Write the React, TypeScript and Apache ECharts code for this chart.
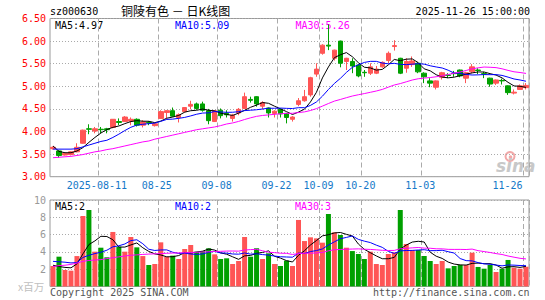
import React, { useEffect, useRef } from "react";
import * as echarts from "echarts";

const dates = [
  "2025-07-30", "2025-07-31", "2025-08-01", "2025-08-04", "2025-08-05", "2025-08-06", "2025-08-07", "2025-08-08",
  "2025-08-11", "2025-08-12", "2025-08-13", "2025-08-14", "2025-08-15", "2025-08-18", "2025-08-19", "2025-08-20",
  "2025-08-21", "2025-08-22", "2025-08-25", "2025-08-26", "2025-08-27", "2025-08-28", "2025-08-29", "2025-09-01",
  "2025-09-02", "2025-09-03", "2025-09-04", "2025-09-05", "2025-09-08", "2025-09-09", "2025-09-10", "2025-09-11",
  "2025-09-12", "2025-09-15", "2025-09-16", "2025-09-17", "2025-09-18", "2025-09-19", "2025-09-22", "2025-09-23",
  "2025-09-24", "2025-09-25", "2025-09-26", "2025-09-29", "2025-09-30", "2025-10-09", "2025-10-10", "2025-10-13",
  "2025-10-14", "2025-10-15", "2025-10-16", "2025-10-17", "2025-10-20", "2025-10-21", "2025-10-22", "2025-10-23",
  "2025-10-24", "2025-10-27", "2025-10-28", "2025-10-29", "2025-10-30", "2025-10-31", "2025-11-03", "2025-11-04",
  "2025-11-05", "2025-11-06", "2025-11-07", "2025-11-10", "2025-11-11", "2025-11-12", "2025-11-13", "2025-11-14",
  "2025-11-17", "2025-11-18", "2025-11-19", "2025-11-20", "2025-11-21", "2025-11-24", "2025-11-25", "2025-11-26",
];

const opens = [
  3.62, 3.57, 3.48, 3.49, 3.55, 3.74, 4.06, 4.01, 4.05, 4.06,
  4.09, 4.22, 4.22, 4.23, 4.27, 4.14, 4.20, 4.13, 4.29, 4.42,
  4.46, 4.31, 4.44, 4.56, 4.61, 4.61, 4.46, 4.22, 4.47, 4.40,
  4.29, 4.41, 4.51, 4.71, 4.77, 4.56, 4.52, 4.40, 4.49, 4.40,
  4.27, 4.60, 4.68, 4.81, 5.27, 5.73, 5.91, 5.62, 6.00, 5.55,
  5.55, 5.47, 5.31, 5.29, 5.29, 5.43, 5.57, 5.88, 5.62, 5.40,
  5.48, 5.51, 5.29, 5.12, 4.98, 5.20, 5.25, 5.29, 5.36, 5.18,
  5.32, 5.36, 5.28, 5.18, 5.07, 5.13, 5.01, 4.85, 4.93, 4.97,
];

const closes = [
  3.65, 3.47, 3.52, 3.55, 3.65, 4.03, 4.05, 4.06, 4.04, 4.04,
  4.27, 4.20, 4.32, 4.27, 4.14, 4.21, 4.19, 4.17, 4.44, 4.46,
  4.34, 4.37, 4.53, 4.60, 4.51, 4.47, 4.24, 4.46, 4.35, 4.37,
  4.36, 4.49, 4.77, 4.69, 4.61, 4.64, 4.41, 4.45, 4.39, 4.31,
  4.32, 4.68, 4.77, 5.19, 5.38, 5.91, 5.89, 5.80, 5.51, 5.62,
  5.45, 5.23, 5.30, 5.43, 5.38, 5.53, 5.73, 5.90, 5.29, 5.55,
  5.56, 5.32, 5.21, 5.07, 5.12, 5.30, 5.24, 5.28, 5.23, 5.30,
  5.43, 5.35, 5.27, 5.05, 5.14, 5.12, 4.86, 4.87, 5.01, 5.02,
];

const highs = [
  3.67, 3.58, 3.53, 3.56, 3.74, 4.04, 4.16, 4.10, 4.10, 4.08,
  4.27, 4.29, 4.34, 4.31, 4.29, 4.25, 4.23, 4.18, 4.47, 4.47,
  4.53, 4.40, 4.54, 4.68, 4.64, 4.66, 4.50, 4.47, 4.51, 4.47,
  4.39, 4.52, 4.86, 4.77, 4.78, 4.67, 4.53, 4.47, 4.51, 4.41,
  4.34, 4.74, 4.92, 5.21, 5.51, 5.93, 6.37, 5.81, 6.01, 5.63,
  5.62, 5.49, 5.36, 5.51, 5.45, 5.55, 5.77, 6.02, 5.63, 5.62,
  5.66, 5.53, 5.31, 5.18, 5.13, 5.32, 5.29, 5.34, 5.37, 5.32,
  5.49, 5.40, 5.32, 5.19, 5.15, 5.17, 5.02, 4.93, 5.04, 5.07,
];

const lows = [
  3.60, 3.42, 3.47, 3.47, 3.54, 3.73, 3.94, 3.96, 3.96, 3.96,
  4.07, 4.14, 4.21, 4.14, 4.11, 4.09, 4.14, 4.11, 4.28, 4.29,
  4.33, 4.20, 4.42, 4.49, 4.48, 4.44, 4.16, 4.21, 4.29, 4.31,
  4.22, 4.36, 4.50, 4.64, 4.55, 4.49, 4.31, 4.31, 4.31, 4.18,
  4.22, 4.56, 4.66, 4.77, 5.21, 5.70, 5.80, 5.57, 5.42, 5.36,
  5.29, 5.20, 5.21, 5.25, 5.27, 5.41, 5.51, 5.79, 5.27, 5.30,
  5.43, 5.29, 5.07, 4.98, 4.93, 5.15, 5.18, 5.21, 5.20, 5.07,
  5.29, 5.27, 5.18, 4.99, 5.03, 5.04, 4.81, 4.82, 4.92, 4.93,
];

// volume in millions of shares
const volumes = [
  2.36, 3.44, 1.90, 1.82, 3.51, 8.15, 8.84, 4.02, 4.48, 3.37,
  6.30, 4.59, 4.02, 5.72, 4.52, 3.51, 2.48, 2.59, 5.10, 3.44,
  3.56, 3.17, 4.33, 4.79, 4.02, 4.09, 4.41, 3.71, 3.17, 3.25,
  2.59, 2.94, 5.72, 3.44, 4.41, 3.17, 3.83, 2.59, 2.36, 2.98,
  2.36, 7.69, 5.25, 5.68, 5.56, 5.06, 8.38, 6.26, 5.95, 4.48,
  4.09, 3.75, 3.17, 4.02, 2.59, 2.48, 3.75, 3.94, 8.84, 4.91,
  4.21, 4.21, 3.52, 2.94, 2.59, 2.94, 2.09, 2.36, 2.48, 2.48,
  3.90, 2.25, 2.05, 2.48, 1.67, 2.05, 3.06, 2.17, 2.05, 2.28,
];

// moving-average values for the days whose window starts before the visible range
const ma5Early = [3.68, 3.56, 3.53, 3.53];
const ma10Early = [3.61, 3.61, 3.61, 3.61, 3.62, 3.66, 3.70, 3.74, 3.78];
const ma30Early = [
  3.42, 3.43, 3.44, 3.45, 3.47, 3.49, 3.52, 3.55, 3.57, 3.60,
  3.62, 3.65, 3.68, 3.71, 3.74, 3.77, 3.79, 3.83, 3.86, 3.89,
  3.92, 3.95, 3.98, 4.01, 4.04, 4.06, 4.08, 4.10, 4.13,
];
const volMa5Early = [2.45, 2.30, 2.20, 2.15];
const volMa10Early = [2.90, 2.85, 2.80, 2.72, 2.75, 3.35, 3.60, 3.80, 3.95];
const volMa30Early = [
  2.30, 2.40, 2.45, 2.55, 2.70, 2.90, 3.00, 3.05, 3.10, 3.22,
  3.32, 3.42, 3.52, 3.60, 3.65, 3.70, 3.74, 3.77, 3.80, 3.83,
  3.86, 3.88, 3.90, 3.92, 3.95, 3.98, 4.01, 4.04, 4.06,
];

const xTickDates = ["2025-08-11", "2025-08-25", "2025-09-08", "2025-09-22", "2025-10-09", "2025-10-20", "2025-11-03", "2025-11-26"];
const xTickLabels = ["2025-08-11", "08-25", "09-08", "09-22", "10-09", "10-20", "11-03", "11-26"];

const priceLegend = ["MA5:4.97", "MA10:5.09", "MA30:5.26"];
const volLegend = ["MA5:2", "MA10:2", "MA30:3"];
const maColors = ["#000000", "#0000ff", "#ff00ff"];

const RED = "#ff5555";
const GREEN = "#00a000";
const MONO = '"DejaVu Sans Mono", "Liberation Mono", monospace';

function movingAvg(src: number[], n: number, early: number[]) {
  return src.map((_, i) => {
    if (i < n - 1) return early[i];
    let s = 0;
    for (let k = i - n + 1; k <= i; k++) s += src[k];
    return +(s / n).toFixed(3);
  });
}

export default function App() {
  const ref = useRef<HTMLDivElement>(null);

  useEffect(() => {
    if (!ref.current) return;
    const chart = echarts.init(ref.current, null, { renderer: "svg" });

    const candleData = dates.map((_, i) => [opens[i], closes[i], lows[i], highs[i]]);
    const volData = volumes.map((v, i) => ({
      value: v,
      itemStyle: { color: closes[i] >= opens[i] ? RED : GREEN },
    }));
    const priceMa = [
      movingAvg(closes, 5, ma5Early),
      movingAvg(closes, 10, ma10Early),
      movingAvg(closes, 30, ma30Early),
    ];
    const volMa = [
      movingAvg(volumes, 5, volMa5Early),
      movingAvg(volumes, 10, volMa10Early),
      movingAvg(volumes, 30, volMa30Early),
    ];

    const tickSet = new Set(xTickDates);
    const lastDate = xTickDates[xTickDates.length - 1];
    const labelOf = (v: string) => xTickLabels[xTickDates.indexOf(v)];
    const dashed = { color: "#aaaaaa", type: [5, 3] as any, width: 1 };
    const dotted = { color: "#aaaaaa", type: [1, 2] as any, width: 1 };

    const txt = (text: string, x: number, y: number, fill: string, font: string, align = "left") => ({
      type: "text",
      x,
      y,
      silent: true,
      style: { text, fill, font, align, verticalAlign: "middle", textAlign: align, textVerticalAlign: "middle" },
    });

    const option: any = {
      animation: false,
      backgroundColor: "#ffffff",
      grid: [
        { left: 50, top: 18.5, width: 479, height: 158.2, show: true, borderColor: "#999999", borderWidth: 1, backgroundColor: "transparent" },
        { left: 50, top: 200, width: 479, height: 86.4, show: true, borderColor: "#999999", borderWidth: 1, backgroundColor: "transparent" },
      ],
      xAxis: [
        {
          type: "category",
          gridIndex: 0,
          data: dates,
          boundaryGap: true,
          axisLine: { show: false },
          axisTick: { show: false },
          axisLabel: {
            interval: (_i: number, v: string) => tickSet.has(v),
            formatter: (v: string) => (v === lastDate ? `{r|${labelOf(v)}}` : `{n|${labelOf(v)}}`),
            rich: {
              n: { padding: [0, 8, 0, 0], color: "#1478c8", fontFamily: MONO, fontSize: 10 },
              r: { padding: [0, 37, 0, 0], color: "#1478c8", fontFamily: MONO, fontSize: 10 },
            },
            color: "#1478c8",
            fontFamily: MONO,
            fontSize: 10,
            margin: 4,
          },
          splitLine: { show: true, interval: (_i: number, v: string) => tickSet.has(v), lineStyle: dashed },
        },
        {
          type: "category",
          gridIndex: 1,
          data: dates,
          boundaryGap: true,
          axisLine: { show: false },
          axisTick: { show: false },
          axisLabel: { show: false },
          splitLine: { show: true, interval: (_i: number, v: string) => tickSet.has(v), lineStyle: dashed },
        },
      ],
      yAxis: [
        {
          type: "value",
          gridIndex: 0,
          min: 3,
          max: 6.5,
          interval: 0.5,
          axisLine: { show: false },
          axisTick: { show: false },
          axisLabel: { color: "#ff0000", fontFamily: MONO, fontSize: 10, margin: 4, formatter: (v: number) => v.toFixed(2) },
          splitLine: { show: true, lineStyle: dotted },
        },
        {
          type: "value",
          gridIndex: 1,
          min: 0,
          max: 10,
          interval: 2,
          axisLine: { show: false },
          axisTick: { show: false },
          axisLabel: { color: "#999999", fontFamily: MONO, fontSize: 10, margin: 4, formatter: (v: number) => (v === 0 ? "" : String(v)) },
          splitLine: { show: true, lineStyle: dotted },
        },
      ],
      series: [
        {
          type: "candlestick",
          xAxisIndex: 0,
          yAxisIndex: 0,
          data: candleData,
          barWidth: 5,
          silent: true,
          itemStyle: { color: RED, color0: GREEN, borderColor: RED, borderColor0: GREEN, borderWidth: 1 },
        },
        ...priceMa.map((d, k) => ({
          type: "line",
          xAxisIndex: 0,
          yAxisIndex: 0,
          data: d,
          symbol: "none",
          silent: true,
          z: 3,
          lineStyle: { color: maColors[k], width: 1 },
        })),
        {
          type: "bar",
          xAxisIndex: 1,
          yAxisIndex: 1,
          data: volData,
          barWidth: 5,
          silent: true,
        },
        ...volMa.map((d, k) => ({
          type: "line",
          xAxisIndex: 1,
          yAxisIndex: 1,
          data: d,
          symbol: "none",
          silent: true,
          z: 3,
          lineStyle: { color: maColors[k], width: 1 },
        })),
      ],
      graphic: [
        txt("sz000630", 50, 11, "#000000", `10px ${MONO}`),
        txt("铜陵有色 － 日K线图", 121, 10.5, "#000000", '12px "Noto Sans CJK SC"'),
        txt("2025-11-26 15:00:00", 530, 11, "#000000", `10px ${MONO}`, "right"),
        txt(priceLegend[0], 55, 25, maColors[0], `10px ${MONO}`),
        txt(priceLegend[1], 175, 25, maColors[1], `10px ${MONO}`),
        txt(priceLegend[2], 295.5, 25, maColors[2], `10px ${MONO}`),
        txt(volLegend[0], 55, 206, maColors[0], `10px ${MONO}`),
        txt(volLegend[1], 175, 206, maColors[1], `10px ${MONO}`),
        txt(volLegend[2], 295, 206.5, maColors[2], `10px ${MONO}`),
        txt("x百万", 18, 286.5, "#c0c0c0", '10.5px "Noto Sans CJK SC"'),
        txt("Copyright 2025 SINA.COM", 50, 292.5, "#555555", `10px ${MONO}`),
        txt("http://finance.sina.com.cn", 529.5, 292.5, "#555555", `10px ${MONO}`, "right"),
        {
          type: "circle",
          silent: true,
          shape: { cx: 510, cy: 156.5, r: 4.5 },
          style: { fill: "none", stroke: "#f2a8a8", lineWidth: 2 },
        },
        {
          type: "circle",
          silent: true,
          shape: { cx: 510.5, cy: 157, r: 1.8 },
          style: { fill: "#f2a8a8" },
        },
        txt("sina", 496, 165.5, "#c8c8c8", 'italic bold 17px "DejaVu Sans"'),
      ],
    };

    chart.setOption(option);
    return () => chart.dispose();
  }, []);

  return (
    <div
      ref={ref}
      style={{ position: "absolute", left: 0, top: 0, width: 545, height: 300, background: "#ffffff" }}
    />
  );
}
